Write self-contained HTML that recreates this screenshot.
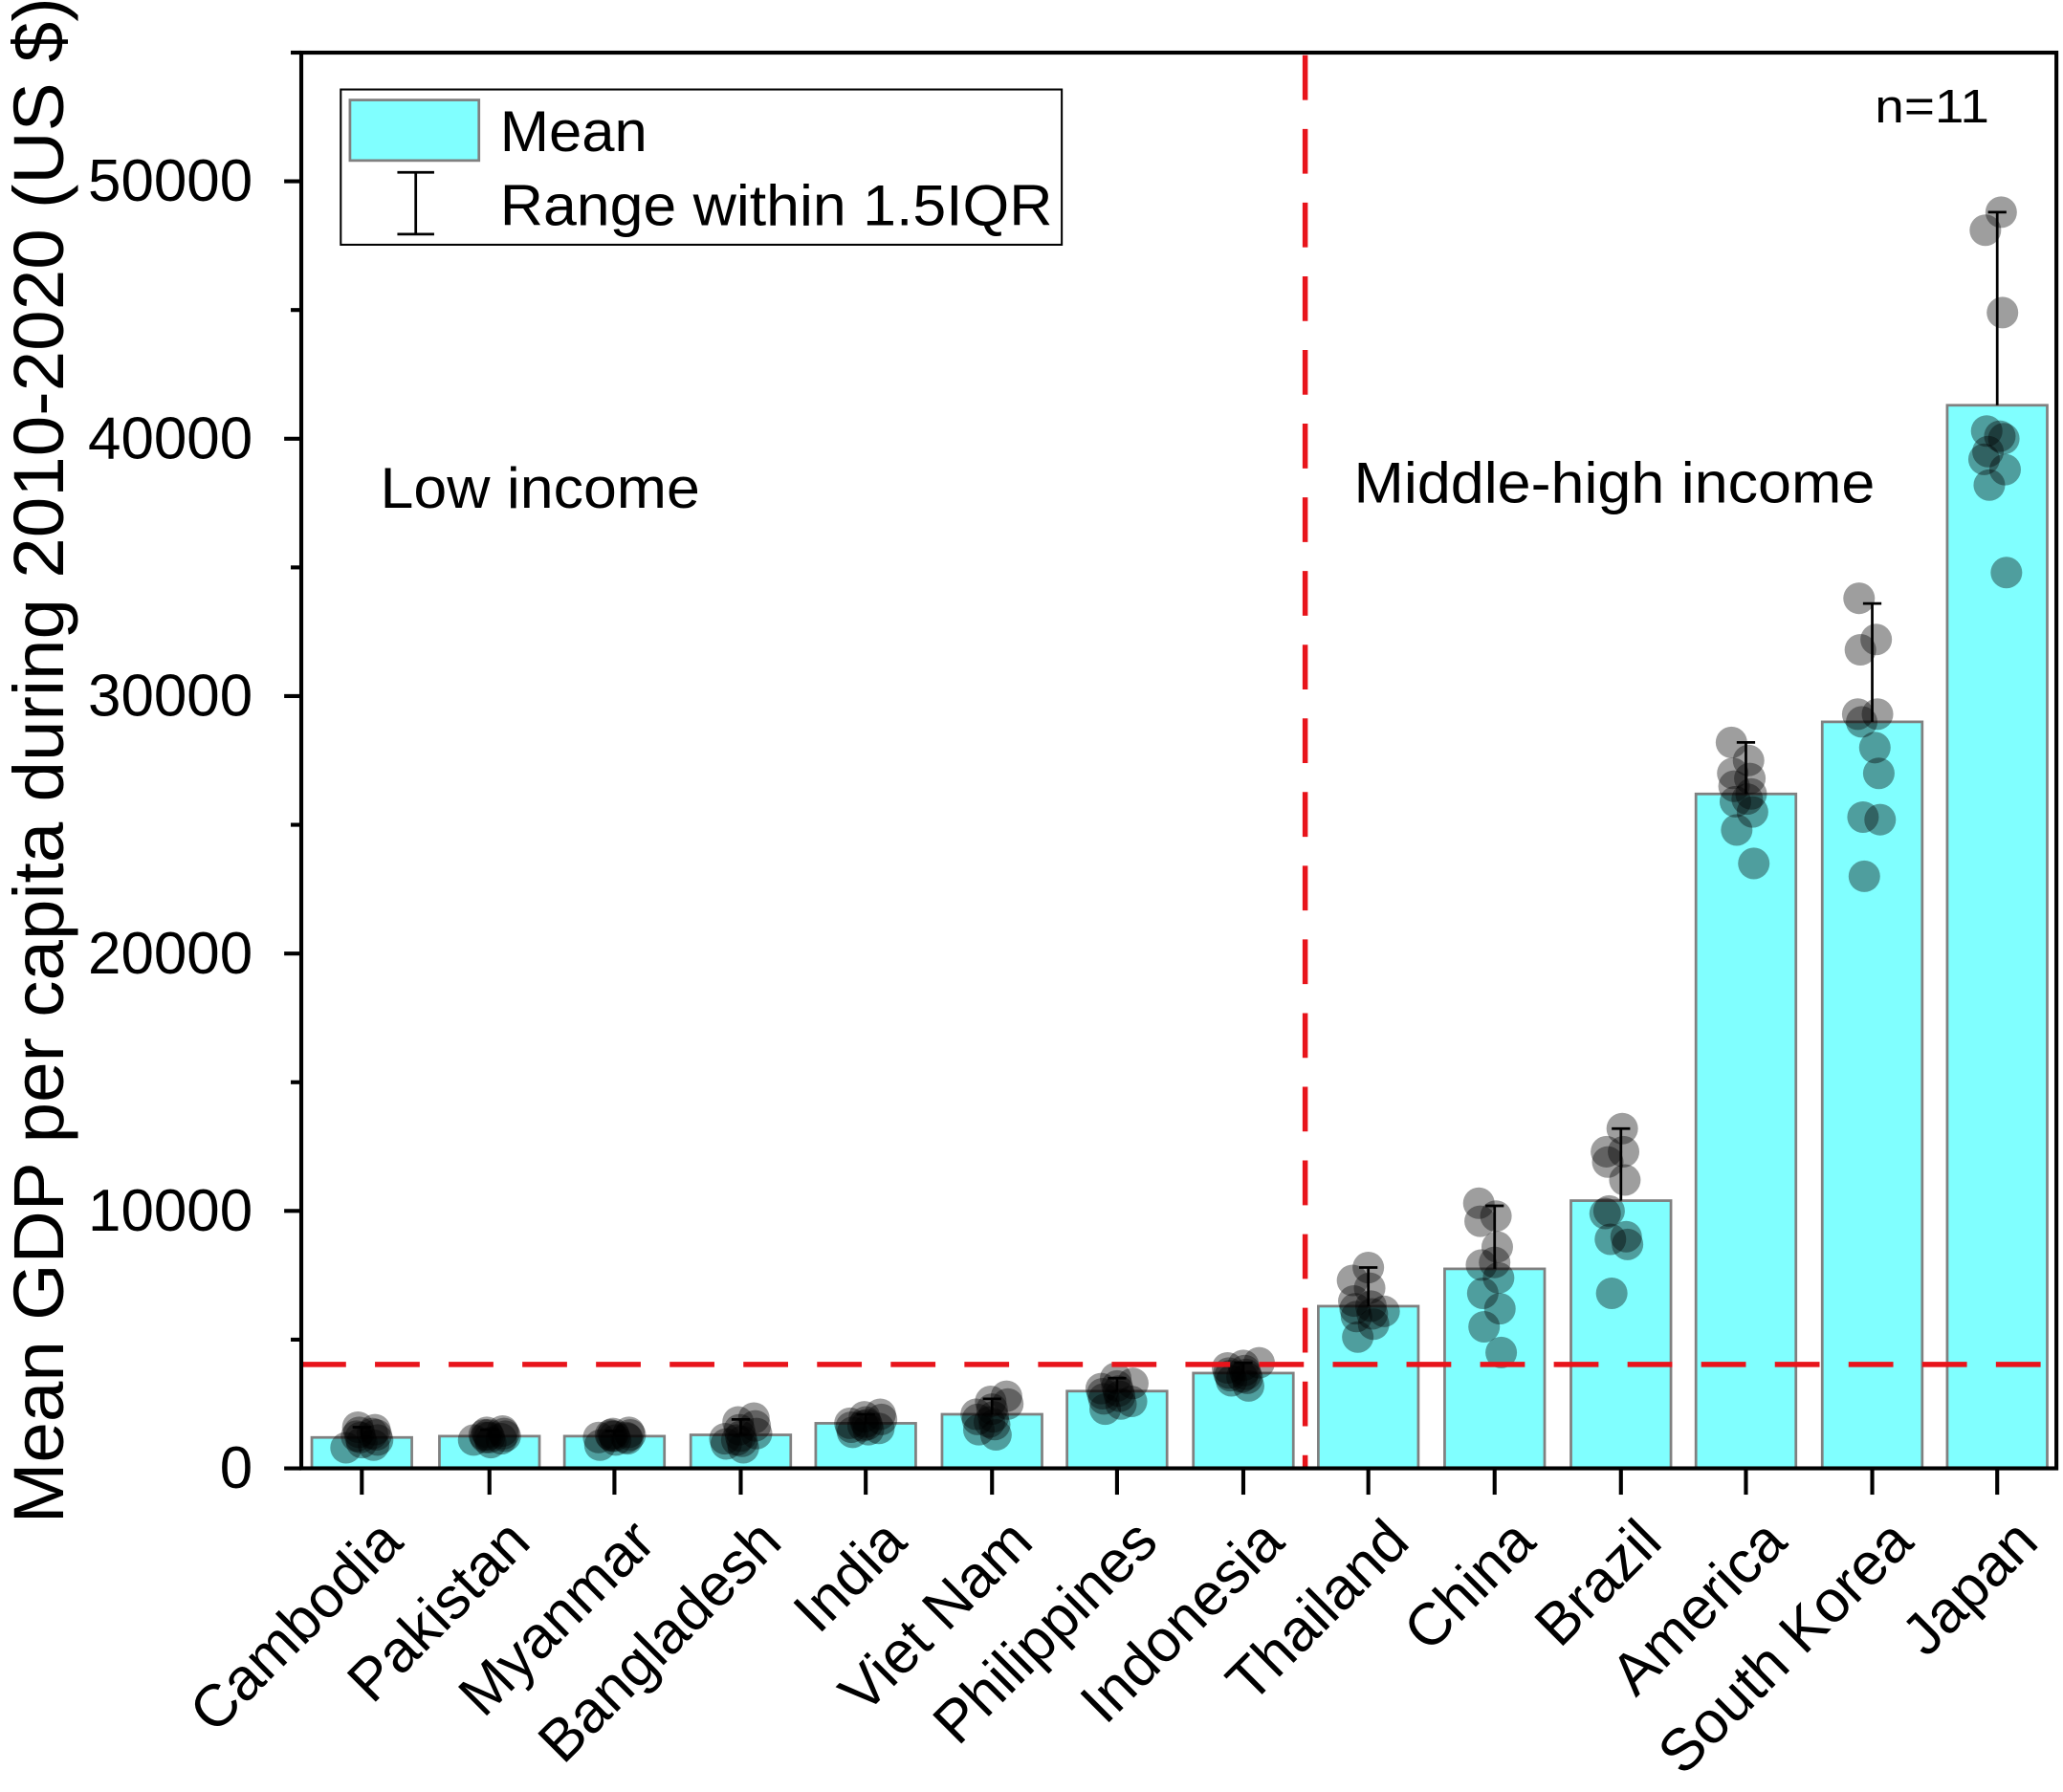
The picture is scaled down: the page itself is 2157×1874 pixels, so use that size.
<!DOCTYPE html>
<html><head><meta charset="utf-8"><style>html,body{margin:0;padding:0;background:#fff}svg{display:block}</style></head>
<body>
<svg id="s" width="2157" height="1874" viewBox="0 0 1568 1362" preserveAspectRatio="none" xmlns="http://www.w3.org/2000/svg" font-family="Liberation Sans, Arial, sans-serif">
<rect width="1568" height="1362" fill="#fff"/>
<g id="bars"></g>
<g id="dots"></g>
<g id="err" stroke="#000" stroke-width="2"></g>
<line x1="229" y1="1037" x2="1563" y2="1037" stroke="#e8141b" stroke-width="4" stroke-dasharray="34,22"/>
<line x1="992" y1="42" x2="992" y2="1116" stroke="#e8141b" stroke-width="4" stroke-dasharray="34,22"/>
<rect x="229" y="40" width="1334" height="1076" fill="none" stroke="#000" stroke-width="3"/>
<g id="ticks" stroke="#000" stroke-width="3"></g>
<g id="labels" font-size="45" fill="#000"></g>
<rect x="259" y="68" width="548" height="118" fill="#fff" stroke="#000" stroke-width="1.5"/>
<rect x="266" y="76" width="98" height="46" fill="#80ffff" stroke="#808080" stroke-width="2"/>
<g stroke="#000" stroke-width="2"><line x1="316" y1="131" x2="316" y2="178"/><line x1="302" y1="131" x2="330" y2="131"/><line x1="302" y1="178" x2="330" y2="178"/></g>
<text x="380" y="115" font-size="44" textLength="112" lengthAdjust="spacingAndGlyphs">Mean</text>
<text x="380" y="171" font-size="44" textLength="420" lengthAdjust="spacingAndGlyphs">Range within 1.5IQR</text>
<text x="289" y="386" font-size="44" textLength="243" lengthAdjust="spacingAndGlyphs">Low income</text>
<text x="1029" y="382" font-size="44" textLength="396" lengthAdjust="spacingAndGlyphs">Middle-high income</text>
<text x="1425" y="93" font-size="36" textLength="87" lengthAdjust="spacingAndGlyphs">n=11</text>
<text transform="translate(48,578) rotate(-90)" text-anchor="middle" font-size="54" textLength="1160" lengthAdjust="spacingAndGlyphs">Mean GDP per capita during 2010-2020 (US $)</text>
</svg>
<script>
const NS="http://www.w3.org/2000/svg";
function el(p,t,a,txt){const e=document.createElementNS(NS,t);for(const k in a)e.setAttribute(k,a[k]);if(txt)e.textContent=txt;document.getElementById(p).appendChild(e);}
const Y=v=>1116-v*0.019564;
const data=[
["Cambodia",275,1200,1600,[800,1000,1100,1200,1300,1400,1500,1600,900,1250,1350]],
["Pakistan",372,1250,1500,[1000,1100,1200,1250,1300,1350,1400,1450,1200,1150,1300]],
["Myanmar",467,1250,1450,[900,1100,1200,1250,1300,1350,1400,1250,1150,1300,1200]],
["Bangladesh",563,1300,1900,[800,950,1050,1150,1250,1350,1500,1650,1800,1950,1100]],
["India",658,1750,2100,[1400,1500,1600,1700,1750,1800,1900,2000,2100,1650,1550]],
["Viet Nam",754,2100,2700,[1300,1500,1700,1900,2000,2100,2300,2500,2600,2800,1800]],
["Philippines",849,3000,3500,[2300,2500,2700,2800,2900,3000,3100,3200,3300,3500,2600]],
["Indonesia",945,3700,4100,[3200,3400,3500,3600,3650,3700,3800,3900,4000,4100,3550]],
["Thailand",1040,6300,7800,[5100,5600,5900,6000,6200,6300,6500,7000,7300,7800,6100]],
["China",1136,7750,10200,[4500,5500,6200,6800,7400,7900,8600,9600,9800,10300,8000]],
["Brazil",1232,10400,13200,[6800,8700,8900,9000,10000,11200,11900,12300,12300,13200,9900]],
["America",1327,26200,28200,[23500,24800,25500,25900,26200,26500,26800,27000,27500,28200,26000]],
["South Korea",1423,29000,33600,[23000,25200,25300,27000,29000,29300,31800,32200,33800,28000,29300]],
["Japan",1518,41300,48800,[34800,38200,38800,39500,40000,40300,44900,48100,48800,39200,40100]]];
data.forEach((d,i)=>{
 const [n,cx,m,top,pts]=d;
 el("bars","rect",{x:cx-38,y:Y(m),width:76,height:1116-Y(m),fill:"#80ffff",stroke:"#808080","stroke-width":2});
 pts.forEach((v,j)=>{const dx=((j*37+i*13)%25)-12;el("dots","circle",{cx:cx+dx,cy:Y(v),r:12,fill:"#000","fill-opacity":0.38});});
 el("err","line",{x1:cx,y1:Y(m),x2:cx,y2:Y(top)});
 el("err","line",{x1:cx-7,y1:Y(top),x2:cx+7,y2:Y(top)});
 el("ticks","line",{x1:cx,y1:1116,x2:cx,y2:1136});
 el("labels","text",{transform:`translate(${cx+33},1174) rotate(-45)`,"text-anchor":"end"},n);
});
for(let v=0;v<=55000;v+=5000){const y=Y(v);const maj=v%10000==0;
 el("ticks","line",{x1:maj?216:221,y1:y,x2:229,y2:y});
 if(maj)el("labels","text",{x:192,y:y+15,"text-anchor":"end"},String(v));}
</script>
</body></html>
